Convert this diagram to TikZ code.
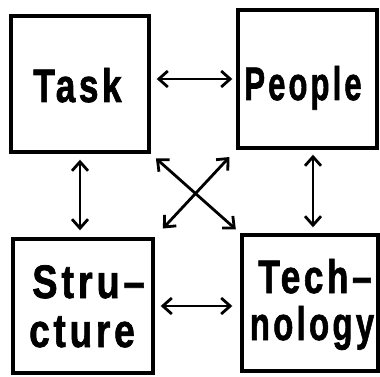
\documentclass[tikz,border=0pt]{standalone}
\usepackage{fontspec}
\usepackage{graphicx}
\setmainfont{Liberation Sans}[LetterSpace=10,BoldFeatures={FakeBold=1.6}]
\usetikzlibrary{arrows.meta,calc}
\begin{document}
\begin{tikzpicture}[x=1pt,y=-1pt,
  box/.style={draw,line width=3.4pt,minimum width=#1,inner sep=0pt},
  word/.style={anchor=base,inner sep=0pt,font=\bfseries\fontsize{47}{48}\selectfont},
  tip/.style={Straight Barb[length=9pt,width=16pt,line width=3pt]},
  link/.style={line width=2.8pt,{Straight Barb[length=9pt,width=16pt]}-{Straight Barb[length=9pt,width=16pt]}}]
\useasboundingbox (0,0) rectangle (380,377);
\node[box=138pt,minimum height=136pt] (task) at (80,84) {};
\node[box=139pt,minimum height=138pt] (people) at (307.5,79) {};
\node[box=140pt,minimum height=134pt] (structure) at (83,306) {};
\node[box=136pt,minimum height=136pt] (technology) at (310,303) {};
\node[word] (taskT) at (77.5,102) {\scalebox{0.75}[1]{Task}};
\node[word] (peopleT) at (303,100) {\scalebox{0.66}[1]{People}};
\node[word] (strucA) at (88.5,298) {\scalebox{0.81}[1]{Stru–}};
\node[word] (strucB) at (82,347) {\scalebox{0.79}[1]{cture}};
\node[word] (techA) at (315,293) {\scalebox{0.75}[1]{Tech–}};
\node[word] (techB) at (312,340) {\scalebox{0.70}[1]{nology}};
\draw[link,shorten <=6pt,shorten >=4pt] (task.east |- people.west) -- (people.west);
\draw[link,shorten <=6pt,shorten >=7pt] (task.south) -- (task.south |- structure.north);
\draw[link,shorten <=5pt,shorten >=6pt] ($(people.south)+(5.5,0)$) -- ($(technology.north)+(3,0)$);
\draw[link,shorten <=6pt,shorten >=8pt] (structure.east) -- (structure.east -| technology.west);
\draw[link,shorten <=7pt,shorten >=6pt] (task.south east) -- (technology.north west);
\draw[link,shorten <=10pt,shorten >=12pt] (people.south west) -- (structure.north east);
\end{tikzpicture}
\end{document}
